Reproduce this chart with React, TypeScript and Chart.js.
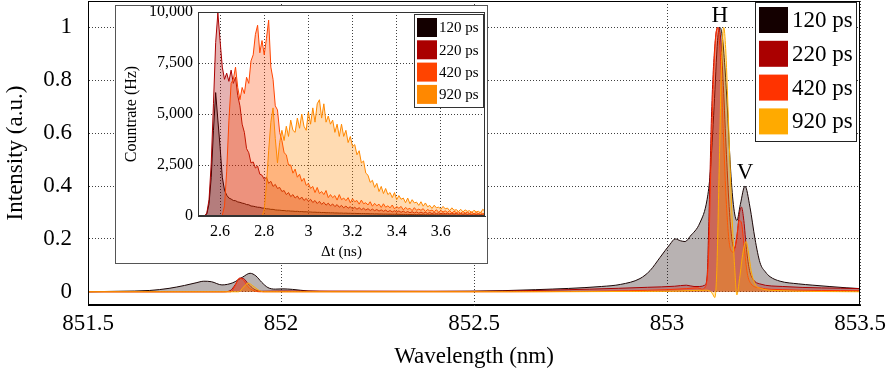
import React, { useEffect, useRef } from 'react';
import { Chart, registerables } from 'chart.js';

Chart.register(...registerables);

const FONT = "'Liberation Serif', 'Times New Roman', serif";

// ---------------- Main spectrum data ----------------
const seriesLabels = ['120 ps', '220 ps', '420 ps', '920 ps'];
const mainColors = ['#1a0505', '#aa0000', '#ff3300', '#ffaa00'];
const mainFills = ['rgba(20,0,0,0.3)', 'rgba(170,0,0,0.3)', 'rgba(255,51,0,0.3)', 'rgba(255,170,0,0.3)'];
const mainLegendColors = ['#140000', '#aa0000', '#ff3300', '#ffaa00'];

const mainXTicks = [851.5, 852, 852.5, 853, 853.5];
const mainYTicks = [0, 0.2, 0.4, 0.6, 0.8, 1];

const wl120 = [851.5, 851.58, 851.66, 851.71, 851.75, 851.78, 851.8, 851.82, 851.847, 851.875, 851.9, 851.92, 851.935, 851.95, 851.966, 851.985, 852.005, 852.03, 852.07, 852.13, 852.3, 852.49, 852.66, 852.83, 852.88, 852.93, 852.956, 852.982, 853.008, 853.021, 853.035, 853.047, 853.06, 853.085, 853.104, 853.112, 853.122, 853.131, 853.137, 853.143, 853.15, 853.157, 853.164, 853.172, 853.181, 853.19, 853.202, 853.215, 853.228, 853.241, 853.255, 853.267, 853.293, 853.34, 853.378, 853.42, 853.466, 853.5];
const int120 = [0, 0.002, 0.005, 0.013, 0.024, 0.034, 0.04, 0.038, 0.026, 0.034, 0.055, 0.07, 0.06, 0.036, 0.016, 0.01, 0.011, 0.009, 0.003, 0.001, 0.001, 0.002, 0.008, 0.02, 0.028, 0.05, 0.08, 0.13, 0.18, 0.2, 0.193, 0.19, 0.21, 0.26, 0.35, 0.45, 0.7, 0.95, 1.0, 0.97, 0.85, 0.68, 0.48, 0.33, 0.27, 0.33, 0.4, 0.32, 0.2, 0.11, 0.075, 0.057, 0.04, 0.03, 0.025, 0.02, 0.015, 0.012];

const wl220 = [851.5, 851.85, 851.868, 851.882, 851.893, 851.903, 851.915, 851.93, 851.95, 852.0, 852.5, 852.8, 852.95, 853.02, 853.05, 853.07, 853.085, 853.098, 853.104, 853.109, 853.116, 853.125, 853.132, 853.139, 853.146, 853.154, 853.162, 853.169, 853.175, 853.182, 853.188, 853.193, 853.199, 853.206, 853.214, 853.224, 853.24, 853.3, 853.5];
const int220 = [0, 0, 0.004, 0.028, 0.052, 0.05, 0.03, 0.01, 0.002, 0.003, 0.002, 0.01, 0.017, 0.021, 0.025, 0.02, 0.02, 0.025, 0.06, 0.3, 0.7, 0.95, 1.0, 0.96, 0.78, 0.52, 0.3, 0.19, 0.165, 0.22, 0.3, 0.32, 0.27, 0.16, 0.08, 0.045, 0.03, 0.02, 0.012];

const wl420 = [851.5, 851.87, 851.88, 851.892, 851.902, 851.914, 851.93, 851.95, 852.5, 852.9, 853.0, 853.05, 853.08, 853.09, 853.1, 853.108, 853.115, 853.124, 853.131, 853.138, 853.146, 853.154, 853.163, 853.172, 853.18, 853.187, 853.193, 853.2, 853.208, 853.218, 853.24, 853.3, 853.5];
const int420 = [0, 0, 0.02, 0.05, 0.046, 0.02, 0.004, 0, 0, 0.004, 0.008, 0.012, 0.015, 0.01, 0.02, 0.15, 0.55, 0.92, 1.0, 0.9, 0.6, 0.33, 0.17, 0.15, 0.2, 0.27, 0.26, 0.17, 0.07, 0.03, 0.015, 0.008, 0.004];

const wl920 = [851.5, 851.89, 851.903, 851.915, 851.926, 851.94, 851.955, 852.5, 853.0, 853.07, 853.1, 853.112, 853.118, 853.124, 853.129, 853.135, 853.141, 853.147, 853.152, 853.158, 853.164, 853.17, 853.175, 853.181, 853.188, 853.197, 853.205, 853.211, 853.218, 853.228, 853.245, 853.28, 853.5];
const int920 = [0, 0, 0.018, 0.033, 0.024, 0.008, 0, 0, 0.002, 0.005, 0.006, 0.002, -0.008, -0.022, 0.08, 0.45, 0.85, 1.0, 0.92, 0.7, 0.45, 0.24, 0.1, -0.012, 0.05, 0.15, 0.19, 0.15, 0.08, 0.03, 0.012, 0.005, 0];

const peakLabels = ['H', 'V'];
const peakWl = [853.137, 853.202];
const peakInt = [1.0, 0.4];

// ---------------- Inset time-resolved data ----------------
const insetColors = ['#140000', '#aa0000', '#ff4400', '#ff8800'];
const insetFills = ['rgba(20,0,0,0.3)', 'rgba(170,0,0,0.3)', 'rgba(255,68,0,0.3)', 'rgba(255,136,0,0.3)'];
const insetXTicks = [2.6, 2.8, 3, 3.2, 3.4, 3.6];
const insetYTicks = [0, 2500, 5000, 7500, 10000];

const deltaT = [
  2.50, 2.51, 2.52, 2.53, 2.54, 2.55, 2.56, 2.57, 2.58, 2.59,
  2.60, 2.61, 2.62, 2.63, 2.64, 2.65, 2.66, 2.67, 2.68, 2.69,
  2.70, 2.71, 2.72, 2.73, 2.74, 2.75, 2.76, 2.77, 2.78, 2.79,
  2.80, 2.81, 2.82, 2.83, 2.84, 2.85, 2.86, 2.87, 2.88, 2.89,
  2.90, 2.91, 2.92, 2.93, 2.94, 2.95, 2.96, 2.97, 2.98, 2.99,
  3.00, 3.01, 3.02, 3.03, 3.04, 3.05, 3.06, 3.07, 3.08, 3.09,
  3.10, 3.11, 3.12, 3.13, 3.14, 3.15, 3.16, 3.17, 3.18, 3.19,
  3.20, 3.21, 3.22, 3.23, 3.24, 3.25, 3.26, 3.27, 3.28, 3.29,
  3.30, 3.31, 3.32, 3.33, 3.34, 3.35, 3.36, 3.37, 3.38, 3.39,
  3.40, 3.41, 3.42, 3.43, 3.44, 3.45, 3.46, 3.47, 3.48, 3.49,
  3.50, 3.51, 3.52, 3.53, 3.54, 3.55, 3.56, 3.57, 3.58, 3.59,
  3.60, 3.61, 3.62, 3.63, 3.64, 3.65, 3.66, 3.67, 3.68, 3.69,
  3.70, 3.71, 3.72, 3.73, 3.74, 3.75, 3.76, 3.77, 3.78, 3.79,
  3.80,
];

const rate120 = [
  0, 0, 0, 0, 100, 600, 1900, 4200, 6050, 4700,
  3400, 1900, 1270, 1020, 880, 830, 760, 750, 690, 670,
  630, 610, 560, 550, 490, 480, 455, 430, 425, 390,
  385, 355, 350, 325, 325, 300, 290, 285, 270, 268,
  250, 255, 240, 238, 225, 230, 215, 218, 205, 208,
  195, 198, 185, 188, 178, 180, 168, 172, 160, 163,
  155, 158, 148, 150, 142, 145, 136, 140, 132, 134,
  126, 130, 122, 124, 116, 120, 112, 114, 106, 110,
  102, 105, 98, 100, 94, 96, 90, 92, 86, 88,
  82, 84, 78, 80, 75, 77, 71, 73, 68, 70,
  65, 67, 62, 64, 60, 62, 57, 59, 55, 57,
  53, 55, 51, 52, 49, 50, 47, 48, 45, 46,
  43, 45, 41, 42, 39, 41, 37, 38, 36, 37,
  35,
];

const rate220 = [
  0, 0, 0, 0, 150, 800, 2600, 5500, 8500, 9950,
  8600, 7300, 6700, 7000, 6600, 7150, 6500, 6800, 5900, 5400,
  4500, 4100, 3300, 3100, 2600, 2650, 2350, 2450, 2050, 2000,
  1800, 1900, 1600, 1700, 1450, 1550, 1350, 1400, 1200, 1250,
  1050, 1150, 950, 1050, 880, 980, 820, 930, 760, 860,
  720, 820, 660, 760, 610, 720, 570, 670, 530, 630,
  500, 590, 460, 560, 430, 520, 400, 490, 380, 460,
  350, 430, 330, 410, 310, 380, 290, 360, 270, 340,
  260, 320, 240, 300, 230, 290, 210, 270, 200, 260,
  190, 250, 180, 240, 170, 220, 160, 210, 150, 200,
  140, 190, 135, 180, 130, 170, 120, 165, 115, 160,
  110, 150, 105, 145, 100, 140, 95, 130, 90, 125,
  85, 120, 80, 115, 80, 110, 75, 105, 70, 100,
  90,
];

const rate420 = [
  0, 0, 0, 0, 0, 0, 0, 0, 0, 0,
  0, 30, 500, 2200, 4700, 6500, 6700, 7300, 6300, 5700,
  6300, 6000, 6800, 6500, 7600, 7900, 8900, 9350, 8000, 8600,
  7900, 8700, 9600, 7300, 6700, 5400, 5200, 4100, 3700, 3100,
  3000, 2500, 2500, 2100, 2300, 1900, 2050, 1700, 1850, 1500,
  1600, 1350, 1450, 1150, 1400, 1100, 1200, 1050, 1250, 900,
  1050, 900, 1000, 780, 1050, 800, 880, 750, 900, 650,
  850, 700, 760, 580, 780, 600, 650, 540, 700, 480,
  620, 500, 580, 420, 600, 430, 500, 400, 540, 350,
  460, 380, 470, 300, 420, 330, 380, 260, 410, 280,
  340, 280, 360, 220, 320, 250, 290, 210, 310, 180,
  270, 200, 250, 180, 260, 150, 230, 170, 210, 130,
  230, 140, 190, 130, 200, 100, 170, 120, 180, 90,
  150,
];

const rate920 = [
  0, 0, 0, 0, 0, 0, 0, 0, 0, 0,
  0, 0, 0, 0, 0, 0, 0, 0, 0, 0,
  0, 0, 0, 0, 0, 0, 0, 0, 0, 0,
  300, 1500, 3200, 4600, 5300, 3800, 2600, 3600, 4200, 3700,
  4400, 3900, 4700, 4200, 4100, 4800, 4300, 5000, 4400, 4200,
  5100, 4500, 5300, 4600, 5500, 5700, 4800, 5500, 4600, 4900,
  4500, 4700, 4100, 4500, 3900, 4500, 3900, 4200, 3600, 3900,
  3400, 3500, 3000, 3200, 2600, 2700, 2100, 2000, 1650, 1750,
  1400, 1600, 1200, 1450, 1100, 1350, 1050, 1150, 900, 1150,
  800, 1000, 820, 880, 650, 880, 600, 800, 640, 680,
  520, 700, 480, 640, 450, 520, 370, 530, 400, 440,
  330, 470, 350, 390, 260, 400, 280, 310, 220, 330,
  200, 300, 230, 260, 170, 280, 200, 230, 150, 330,
  230,
];

// ---------------- Plugins ----------------
const framePlugin = {
  id: 'frame',
  afterDatasetsDraw(chart: any, _a: any, opts: any) {
    const { ctx, chartArea: ca } = chart;
    ctx.save();
    ctx.strokeStyle = opts.color || '#000';
    ctx.lineWidth = 1;
    ctx.strokeRect(Math.round(ca.left) + 0.5, Math.round(ca.top) + 0.5, Math.round(ca.right - ca.left) - 1, Math.round(ca.bottom - ca.top) - 1);
    ctx.restore();
  },
};

const boxLegendPlugin = {
  id: 'boxLegend',
  afterDraw(chart: any, _a: any, opts: any) {
    if (!opts || !opts.labels) return;
    const ctx = chart.ctx;
    ctx.save();
    ctx.fillStyle = '#fff';
    ctx.fillRect(opts.x, opts.y, opts.w, opts.h);
    ctx.strokeStyle = opts.borderColor;
    ctx.lineWidth = 1;
    ctx.strokeRect(opts.x + 0.5, opts.y + 0.5, opts.w, opts.h);
    ctx.font = `${opts.fontSize}px ${FONT}`;
    ctx.textBaseline = 'middle';
    ctx.textAlign = 'left';
    for (let i = 0; i < opts.labels.length; i++) {
      const cy = opts.firstY + i * opts.step;
      ctx.fillStyle = opts.colors[i];
      ctx.fillRect(opts.swatchX, cy - opts.swatchH / 2, opts.swatchW, opts.swatchH);
      ctx.fillStyle = '#000';
      ctx.fillText(opts.labels[i], opts.textX, cy + 1);
    }
    ctx.restore();
  },
};

const peakLabelPlugin = {
  id: 'peakLabels',
  afterDraw(chart: any, _a: any, opts: any) {
    if (!opts || !opts.labels) return;
    const { ctx, scales } = chart;
    ctx.save();
    ctx.font = `${opts.fontSize}px ${FONT}`;
    ctx.fillStyle = '#000';
    ctx.textAlign = 'center';
    ctx.textBaseline = 'alphabetic';
    for (let i = 0; i < opts.labels.length; i++) {
      const px = scales.x.getPixelForValue(opts.xs[i]);
      const py = scales.y.getPixelForValue(opts.ys[i]);
      ctx.fillText(opts.labels[i], px, py - opts.offsets[i]);
    }
    ctx.restore();
  },
};

const toPoints = (xs: number[], ys: number[]) => xs.map((x, i) => ({ x, y: ys[i] }));

const fitX = (h: number) => (s: any) => {
  s.height = h;
  s.paddingLeft = 0;
  s.paddingRight = 0;
  s.paddingTop = 0;
  s.paddingBottom = 0;
};
const fitY = (w: number) => (s: any) => {
  s.width = w;
  s.paddingLeft = 0;
  s.paddingRight = 0;
  s.paddingTop = 0;
  s.paddingBottom = 0;
};

function mainConfig(): any {
  const xs = [wl120, wl220, wl420, wl920];
  const ys = [int120, int220, int420, int920];
  return {
    type: 'line',
    data: {
      datasets: seriesLabels.map((label, i) => ({
        label,
        data: toPoints(xs[i], ys[i]),
        borderColor: mainColors[i],
        backgroundColor: mainFills[i],
        borderWidth: 1,
        fill: 'origin',
        pointRadius: 0,
        cubicInterpolationMode: 'monotone',
        order: 4 - i,
      })),
    },
    plugins: [framePlugin, peakLabelPlugin, boxLegendPlugin],
    options: {
      responsive: false,
      animation: false,
      layout: { autoPadding: false, padding: { left: 0, top: 1, right: 29, bottom: 0 } },
      plugins: {
        legend: { display: false },
        tooltip: { enabled: false },
        frame: { color: '#000' },
        peakLabels: { labels: peakLabels, xs: peakWl, ys: peakInt, offsets: [5, 7], fontSize: 23 },
        boxLegend: {
          labels: seriesLabels, colors: mainLegendColors,
          x: 755, y: 2, w: 101, h: 139, borderColor: '#222',
          swatchX: 759, swatchW: 29, swatchH: 26, firstY: 20, step: 33.8, textX: 792, fontSize: 23,
        },
      },
      scales: {
        x: {
          type: 'linear', min: 851.5, max: 853.5,
          afterBuildTicks: (axis: any) => { axis.ticks = mainXTicks.map((v) => ({ value: v })); },
          afterFit: fitX(69),
          grid: { color: 'rgba(0,0,0,0.75)', drawTicks: false, lineWidth: 1 },
          border: { display: true, color: '#000', dash: [1, 2] },
          ticks: { padding: 5, color: '#000', font: { family: FONT, size: 23 }, maxRotation: 0, callback: (v: any) => String(v) },
          title: { display: true, text: 'Wavelength (nm)', color: '#000', font: { family: FONT, size: 23 }, padding: { top: 0, bottom: 3 } },
        },
        y: {
          type: 'linear', min: -0.05, max: 1.1,
          afterBuildTicks: (axis: any) => { axis.ticks = mainYTicks.map((v) => ({ value: v })); },
          afterFit: fitY(88),
          grid: { color: 'rgba(0,0,0,0.75)', drawTicks: false, lineWidth: 1 },
          border: { display: true, color: '#000', dash: [1, 2] },
          ticks: { padding: 16, color: '#000', font: { family: FONT, size: 23 }, callback: (v: any) => String(v) },
          title: { display: true, text: 'Intensity (a.u.)', color: '#000', font: { family: FONT, size: 23 }, padding: { top: 2, bottom: 0 } },
        },
      },
    },
  };
}

function insetConfig(): any {
  const ys = [rate120, rate220, rate420, rate920];
  return {
    type: 'line',
    data: {
      datasets: seriesLabels.map((label, i) => ({
        label,
        data: toPoints(deltaT, ys[i]),
        borderColor: insetColors[i],
        backgroundColor: insetFills[i],
        borderWidth: 1,
        fill: 'origin',
        pointRadius: 0,
        tension: 0,
        order: 4 - i,
      })),
    },
    plugins: [framePlugin, boxLegendPlugin],
    options: {
      responsive: false,
      animation: false,
      layout: { autoPadding: false, padding: { left: 0, top: 6, right: 2, bottom: 0 } },
      plugins: {
        legend: { display: false },
        tooltip: { enabled: false },
        frame: { color: '#333' },
        boxLegend: {
          labels: seriesLabels, colors: insetColors,
          x: 298, y: 8, w: 69, h: 93, borderColor: '#333',
          swatchX: 301, swatchW: 20, swatchH: 19, firstY: 21.5, step: 22.3, textX: 323, fontSize: 15,
        },
      },
      scales: {
        x: {
          type: 'linear', min: 2.5, max: 3.8,
          afterBuildTicks: (axis: any) => { axis.ticks = insetXTicks.map((v) => ({ value: v })); },
          afterFit: fitX(47),
          grid: { color: 'rgba(0,0,0,0.75)', drawTicks: false, lineWidth: 1 },
          border: { display: true, color: '#333', dash: [1, 2] },
          ticks: { padding: 6, color: '#000', font: { family: FONT, size: 16 }, maxRotation: 0, callback: (v: any) => String(v) },
          title: { display: true, text: 'Δt (ns)', color: '#000', font: { family: FONT, size: 15 }, padding: { top: 0, bottom: 2 } },
        },
        y: {
          type: 'linear', min: 0, max: 10000,
          afterBuildTicks: (axis: any) => { axis.ticks = insetYTicks.map((v) => ({ value: v })); },
          afterFit: fitY(82),
          grid: { color: 'rgba(0,0,0,0.75)', drawTicks: false, lineWidth: 1 },
          border: { display: true, color: '#333', dash: [1, 2] },
          ticks: { padding: 5, color: '#000', font: { family: FONT, size: 16 }, callback: (v: any) => Number(v).toLocaleString('en-US') },
          title: { display: true, text: 'Countrate (Hz)', color: '#000', font: { family: FONT, size: 16 }, padding: { top: 6, bottom: 0 } },
        },
      },
    },
  };
}

export default function App() {
  const mainRef = useRef<HTMLCanvasElement>(null);
  const insetRef = useRef<HTMLCanvasElement>(null);
  useEffect(() => {
    const c1 = new Chart(mainRef.current as HTMLCanvasElement, mainConfig());
    const c2 = new Chart(insetRef.current as HTMLCanvasElement, insetConfig());
    return () => {
      c1.destroy();
      c2.destroy();
    };
  }, []);
  return (
    <div style={{ position: 'fixed', left: 0, top: 0, width: 889, height: 374, background: '#fff', overflow: 'hidden' }}>
      <canvas ref={mainRef} width={889} height={374} style={{ position: 'absolute', left: 0, top: 0, width: 889, height: 374 }} />
      <div style={{ position: 'absolute', left: 115, top: 5, width: 371, height: 257, border: '1px solid #555', background: '#fff' }}>
        <canvas ref={insetRef} width={371} height={257} style={{ display: 'block', width: 371, height: 257 }} />
      </div>
    </div>
  );
}
